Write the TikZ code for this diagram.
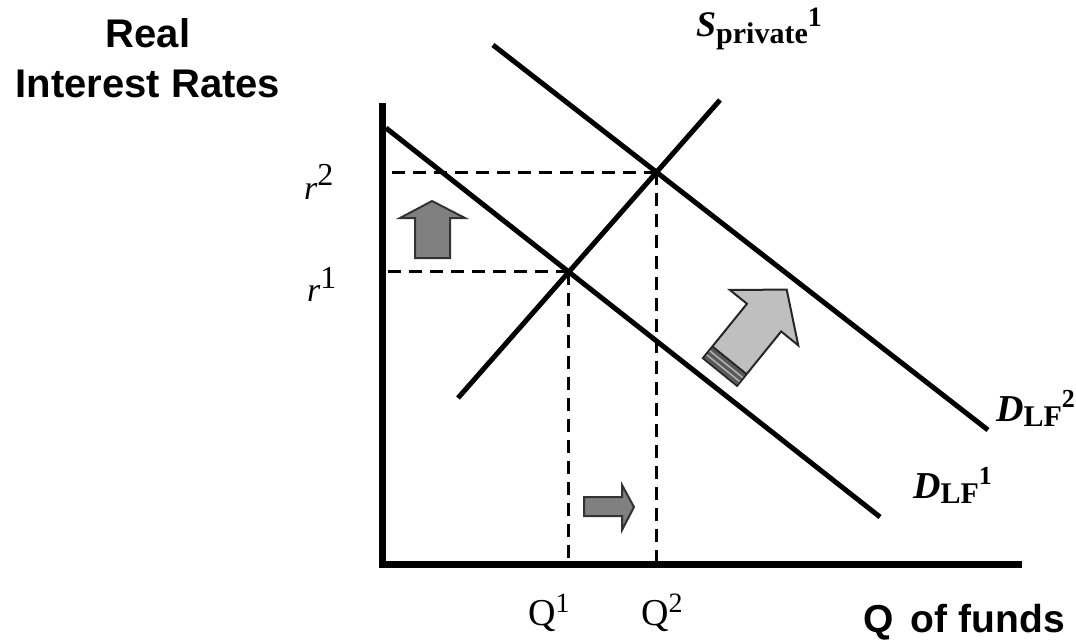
\documentclass[tikz,border=0pt]{standalone}
\usepackage{fontspec}
\setmainfont{Liberation Serif}
\newfontfamily\axisfont{Liberation Sans}
\usetikzlibrary{intersections}
\begin{document}
\begin{tikzpicture}[x=1pt,y=-1pt]
\useasboundingbox (0,0) rectangle (1076,641);
\tikzset{
  axisline/.style={line width=7pt},
  curveline/.style={line width=5pt},
  guide/.style={line width=3pt, dash pattern=on 13pt off 8pt},
  darkblock/.style={fill=black!50, draw=black!80, line width=2pt, line join=miter},
  lightblock/.style={fill=black!25, draw=black!85, line width=2pt, line join=miter},
  axistitle/.style={font=\axisfont\bfseries\fontsize{40}{50}\selectfont, inner sep=0pt},
  mathlab/.style={inner sep=0pt, anchor=base west},
}
% axes
\coordinate (ytop) at (382,103);
\coordinate (O) at (382,564);
\coordinate (xend) at (1022,564);
\draw[axisline] (ytop) -- (O |- 0,567.5);
\draw[axisline] (378.5,564) -- (xend);
% curves
\coordinate (d1a) at (386,128);
\coordinate (d1b) at (880,517);
\coordinate (d2a) at (493,45);
\coordinate (d2b) at (988,430);
\coordinate (sa) at (458,398);
\coordinate (sb) at (720,100);
\draw[curveline, name path=d1] (d1a) -- (d1b);
\draw[curveline, name path=d2] (d2a) -- (d2b);
\draw[curveline, name path=s] (sa) -- (sb);
\path[name intersections={of=d1 and s, by=E1}];
\path[name intersections={of=d2 and s, by=E2}];
% guides
\draw[guide] (E1) -- (E1 -| O);
\draw[guide] (E1) -- (E1 |- O);
\draw[guide] (E2) -- (E2 -| O);
\draw[guide] (E2) -- (E2 |- O);
% block arrows
\draw[darkblock] (432,201) -- (465,218) -- (450,218) -- (450,258) -- (415,258) -- (415,218) -- (400,218) -- cycle;
\draw[darkblock] (584,497) -- (622,497) -- (622,485) -- (634,507) -- (622,530) -- (622,516) -- (584,516) -- cycle;
\begin{scope}[shift={(720,372)}, rotate=51]
  \draw[lightblock] (0,-22) -- (70,-22) -- (70,-44) -- (106,0) -- (70,44) -- (70,22) -- (0,22) -- cycle;
  \fill[black!65] (1,-21) rectangle (14,21);
  \draw[black!30, line width=1.5pt] (5,-21) -- (5,21);
  \draw[black!30, line width=1.5pt] (10,-21) -- (10,21);
  \draw[black!85, line width=2pt] (15,-22) -- (15,22);
\end{scope}
% titles
\node[axistitle, anchor=base] (ytitle1) at (148,47) {Real};
\node[axistitle, anchor=base] (ytitle2) at (148,97) {Interest Rates};
\node[axistitle, anchor=base west, font=\axisfont\bfseries\fontsize{39}{40}\selectfont] (xtitle) at (863,632) {Q\, of funds};
% labels
\node[mathlab] (r2) at (304,199) {\fontsize{34}{34}\selectfont\itshape r\upshape\raisebox{14pt}{\fontsize{32}{32}\selectfont 2}};
\node[mathlab] (r1) at (307,301) {\fontsize{34}{34}\selectfont\itshape r\upshape\raisebox{13pt}{\fontsize{32}{32}\selectfont 1}};
\node[mathlab] (q1) at (528,625) {\fontsize{38}{38}\selectfont Q\raisebox{13pt}{\fontsize{28}{28}\selectfont 1}};
\node[mathlab] (q2) at (641,625) {\fontsize{38}{38}\selectfont Q\raisebox{13pt}{\fontsize{28}{28}\selectfont 2}};
\node[mathlab] (slab) at (696,36) {\bfseries\fontsize{36}{36}\selectfont\itshape S\upshape\raisebox{-7pt}{\fontsize{30}{30}\selectfont private}\raisebox{10pt}{\fontsize{28}{28}\selectfont 1}};
\node[mathlab] (dlf2) at (996,421) {\bfseries\fontsize{38}{38}\selectfont\itshape D\upshape\raisebox{-5pt}{\fontsize{30}{30}\selectfont LF}\raisebox{14pt}{\fontsize{26}{26}\selectfont 2}};
\node[mathlab] (dlf1) at (913,498) {\bfseries\fontsize{38}{38}\selectfont\itshape D\upshape\raisebox{-5pt}{\fontsize{30}{30}\selectfont LF}\raisebox{14pt}{\fontsize{26}{26}\selectfont 1}};
\end{tikzpicture}
\end{document}
